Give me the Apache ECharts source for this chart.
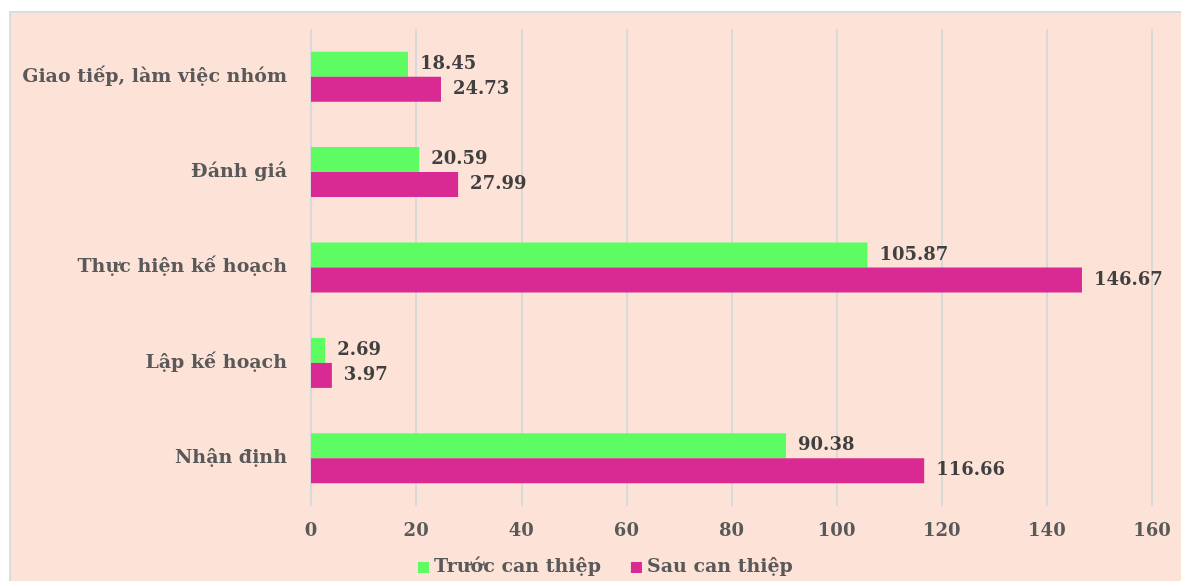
<!DOCTYPE html>
<html>
<head>
<meta charset="utf-8">
<script src="https://cdn.jsdelivr.net/npm/echarts@6/dist/echarts.min.js"></script>
<style>
  html, body { margin: 0; padding: 0; background: #ffffff; overflow: hidden; }
  #frame {
    position: absolute; left: 9px; top: 11px; width: 1300px; height: 700px;
    border-left: 2px solid #dcdcdc; border-top: 2px solid #dcdcdc;
    background: #fde3d7;
  }
  #chart-container { position: absolute; left: 0; top: 0; width: 1181px; height: 581px; }
</style>
</head>
<body>
<div id="frame"></div>
<div id="chart-container"></div>
<script>
// categories from bottom to top
const categories = ['Nhận định', 'Lập kế hoạch', 'Thực hiện kế hoạch', 'Đánh giá', 'Giao tiếp, làm việc nhóm'];
const truocValues = [90.38, 2.69, 105.87, 20.59, 18.45];
const sauValues = [116.66, 3.97, 146.67, 27.99, 24.73];
const xTicks = { min: 0, max: 160, interval: 20 };

const FONT = '"DejaVu Serif", "Liberation Serif", serif';

const myChart = echarts.init(document.getElementById('chart-container'));

function valueLabel() {
  return {
    show: true,
    position: 'right',
    distance: 12,
    fontFamily: FONT,
    fontWeight: 'bold',
    fontSize: 18,
    color: '#404040',
    formatter: p => p.value.toFixed(2)
  };
}

myChart.setOption({
  backgroundColor: 'transparent',
  animation: false,
  textStyle: { fontFamily: FONT },
  legend: {
    data: ['Trước can thiệp', 'Sau can thiệp'],
    left: 413,
    top: 553,
    icon: 'rect',
    itemWidth: 11,
    itemHeight: 11,
    itemGap: 30,
    textStyle: { fontFamily: FONT, fontWeight: 'bold', fontSize: 19, color: '#595959' }
  },
  grid: { left: 311, right: 29, top: 29, bottom: 75, containLabel: false },
  xAxis: {
    type: 'value',
    min: xTicks.min,
    max: xTicks.max,
    interval: xTicks.interval,
    axisLine: { show: false },
    axisTick: { show: false },
    splitLine: { lineStyle: { color: '#d9d9d9', width: 2 } },
    axisLabel: { margin: 16, fontFamily: FONT, fontWeight: 'bold', fontSize: 18, color: '#595959' }
  },
  yAxis: {
    type: 'category',
    data: categories,
    axisLine: { show: false },
    axisTick: { show: false },
    axisLabel: { margin: 24, fontFamily: FONT, fontWeight: 'bold', fontSize: 19, color: '#595959' }
  },
  series: [
    {
      name: 'Trước can thiệp',
      type: 'bar',
      data: truocValues,
      barWidth: 25,
      barGap: '0%',
      itemStyle: { color: '#5cfc62' },
      label: valueLabel()
    },
    {
      name: 'Sau can thiệp',
      type: 'bar',
      data: sauValues,
      barWidth: 25,
      barGap: '0%',
      itemStyle: { color: '#d82a92' },
      label: valueLabel()
    }
  ]
});
</script>
</body>
</html>
